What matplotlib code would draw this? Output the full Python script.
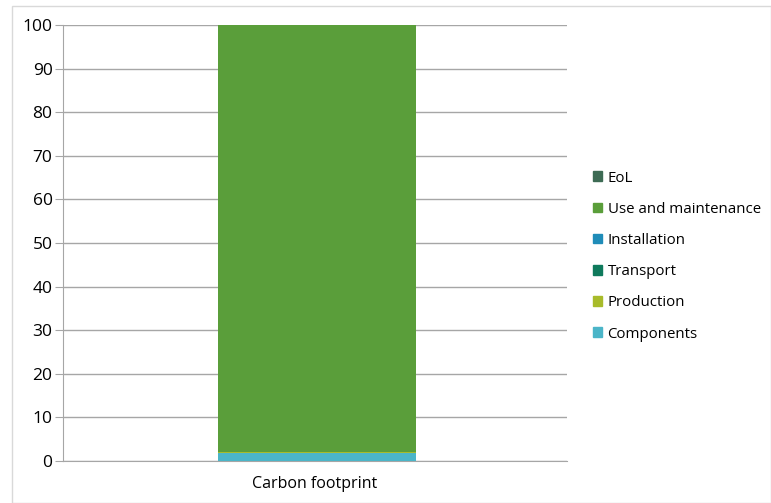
import numpy as np
import matplotlib.pyplot as plt
from matplotlib.patches import Patch, Rectangle

plt.rcParams['font.family'] = ['Open Sans', 'DejaVu Sans']

category = ['Carbon footprint']
stages = ['Components', 'Production', 'Transport', 'Installation', 'Use and maintenance', 'EoL']
values = [1.8, 0.2, 0.0, 0.0, 98.0, 0.0]
colors = ['#4bb5c8', '#a8bb2a', '#0f7a5c', '#1f8cb8', '#5a9e3a', '#3d6b54']

fig = plt.figure(figsize=(7.71, 5.03), dpi=100)
fig.patches.append(Rectangle((12 / 771, 0.0), 1 - 12 / 771, 1 - 6 / 503,
                             transform=fig.transFigure, fill=False,
                             edgecolor='#d9d9d9', linewidth=1))
ax = fig.add_axes([63 / 771, 42 / 503, 504 / 771, 436 / 503])

x = np.arange(len(category))
bottom = np.zeros(len(category))
for name, v, c in zip(stages, values, colors):
    ax.bar(x + 0.004, [v], bottom=bottom, width=0.393, color=c, label=name, zorder=3)
    bottom += v

ax.set_xlim(-0.5, 0.5)
ax.set_ylim(0, 100)
ax.set_yticks(np.arange(0, 101, 10))
ax.set_xticks(x)
ax.set_xticklabels(category)
ax.grid(axis='y', color='#a6a6a6', linewidth=1, zorder=0)
for s in ['top', 'right']:
    ax.spines[s].set_visible(False)
ax.spines['left'].set_color('#a6a6a6')
ax.spines['bottom'].set_color('#a6a6a6')
ax.tick_params(axis='y', length=6, color='#a6a6a6', labelsize=12.5, pad=1.5)
ax.tick_params(axis='x', length=0, labelsize=11.5, pad=11)

handles = [Patch(color=c, label=n) for n, c in zip(stages, colors)][::-1]
fig.legend(handles=handles, loc='center left', bbox_to_anchor=(579 / 771, 1 - 256 / 503),
           frameon=False, fontsize=10.8, handlelength=0.6, handleheight=0.6,
           handletextpad=0.4, labelspacing=1.08)

fig.savefig('out.png', dpi=100)
